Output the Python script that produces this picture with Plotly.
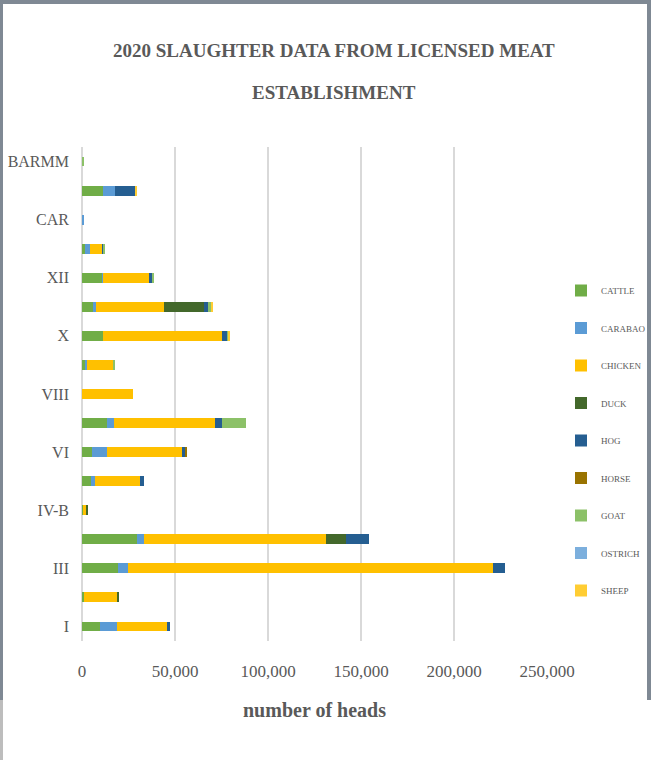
import plotly.graph_objects as go

regions = ["I", "II", "III", "IV-A", "IV-B", "V", "VI", "VII", "VIII", "IX",
           "X", "XI", "XII", "XIII", "CAR", "NCR", "BARMM"]
shown_labels = ["I", "III", "IV-B", "VI", "VIII", "X", "XII", "CAR", "BARMM"]

cattle = [9700, 1000, 19400, 29600, 700, 5000, 5200, 13600, 0, 2000, 11100, 5900, 10900, 1450, 0, 11300, 0]
carabao = [9300, 0, 5500, 3800, 0, 2000, 8100, 3400, 0, 700, 0, 1450, 400, 3050, 700, 6300, 0]
chicken = [26700, 18300, 195900, 97700, 1500, 24200, 40500, 54700, 27600, 14300, 64000, 36600, 24600, 6100, 0, 0, 0]
duck = [0, 500, 0, 10750, 500, 0, 0, 0, 0, 0, 0, 21700, 0, 0, 0, 0, 0]
hog = [1800, 0, 6500, 12200, 0, 2150, 1600, 3750, 0, 0, 3050, 2150, 1800, 1100, 0, 11300, 0]
horse = [0, 0, 0, 0, 0, 0, 600, 0, 0, 0, 0, 0, 0, 0, 0, 0, 0]
goat = [0, 0, 0, 0, 0, 0, 0, 12700, 0, 300, 600, 1600, 500, 900, 0, 0, 700]
ostrich = [0, 0, 0, 0, 0, 0, 0, 0, 0, 0, 0, 0, 0, 0, 0, 0, 0]
sheep = [0, 0, 0, 0, 0, 0, 0, 0, 0, 0, 400, 500, 0, 0, 0, 400, 0]

series = [
    ("CATTLE", cattle, "#70AD47"),
    ("CARABAO", carabao, "#5B9BD5"),
    ("CHICKEN", chicken, "#FFC000"),
    ("DUCK", duck, "#43682B"),
    ("HOG", hog, "#255E91"),
    ("HORSE", horse, "#997300"),
    ("GOAT", goat, "#8CC168"),
    ("OSTRICH", ostrich, "#7CAFDD"),
    ("SHEEP", sheep, "#FFCD33"),
]

FONT = "Liberation Serif, DejaVu Serif, serif"
GREY = "#595959"

fig = go.Figure()
for name, vals, color in series:
    fig.add_trace(go.Bar(
        y=regions, x=vals, name=name, orientation="h",
        marker=dict(color=color, line=dict(width=0)),
        legendgroup=name,
    ))

W, H = 651, 760
L, R, T, B = 82, 104, 147, 119
pw, ph = W - L - R, H - T - B

def px2x(px):
    return (px - L) / pw

def py2y(py):
    return (H - B - py) / ph

fig.update_layout(
    width=W, height=H,
    margin=dict(l=L, r=R, t=T, b=B, autoexpand=False),
    paper_bgcolor="white", plot_bgcolor="white",
    barmode="stack", bargap=0.66,
    font=dict(family=FONT, color=GREY),
    showlegend=True,
    legend=dict(
        x=px2x(561), y=py2y(276), xanchor="left", yanchor="top",
        traceorder="grouped", tracegroupgap=18.5, itemwidth=30,
        font=dict(size=9, color=GREY, family=FONT),
        bgcolor="rgba(0,0,0,0)",
    ),
    xaxis=dict(
        range=[0, 250000], tickvals=[0, 50000, 100000, 150000, 200000, 250000],
        tickformat=",", showgrid=True, gridcolor="#D9D9D9", gridwidth=1.5,
        zeroline=True, zerolinecolor="#D9D9D9", zerolinewidth=1.5,
        showline=False, ticks="", ticklabelstandoff=18,
        tickfont=dict(size=17, color=GREY, family=FONT),
        title=dict(text="<b>number of heads</b>", standoff=22,
                   font=dict(size=20, color=GREY, family=FONT)),
        automargin=False, fixedrange=True,
    ),
    yaxis=dict(
        type="category", categoryorder="array", categoryarray=regions,
        tickmode="array", tickvals=shown_labels, ticktext=shown_labels,
        showgrid=False, showline=False, ticks="", ticklabelstandoff=12,
        tickfont=dict(size=16, color=GREY, family=FONT),
        automargin=False, fixedrange=True,
    ),
    annotations=[
        dict(text="<b>2020 SLAUGHTER DATA FROM LICENSED MEAT</b>", xref="paper", yref="paper",
             x=px2x(334), y=py2y(51), xanchor="center", yanchor="middle", showarrow=False,
             font=dict(size=19, color=GREY, family=FONT)),
        dict(text="<b>ESTABLISHMENT</b>", xref="paper", yref="paper",
             x=px2x(334), y=py2y(93), xanchor="center", yanchor="middle", showarrow=False,
             font=dict(size=19, color=GREY, family=FONT)),
    ],
    shapes=[
        dict(type="rect", xref="paper", yref="paper", x0=px2x(0), x1=px2x(W), y0=py2y(0), y1=py2y(4),
             fillcolor="#7F8994", line=dict(width=0), layer="above"),
        dict(type="rect", xref="paper", yref="paper", x0=px2x(0), x1=px2x(3), y0=py2y(0), y1=py2y(700),
             fillcolor="#7F8994", line=dict(width=0), layer="above"),
        dict(type="rect", xref="paper", yref="paper", x0=px2x(0), x1=px2x(3), y0=py2y(700), y1=py2y(H),
             fillcolor="#BDBDBD", line=dict(width=0), layer="above"),
        dict(type="rect", xref="paper", yref="paper", x0=px2x(647), x1=px2x(W), y0=py2y(0), y1=py2y(700),
             fillcolor="#7F8994", line=dict(width=0), layer="above"),
    ],
)

fig.write_html("out.html", config={"displayModeBar": False},
               post_script="document.body.style.margin='0';document.body.style.overflow='hidden';")
